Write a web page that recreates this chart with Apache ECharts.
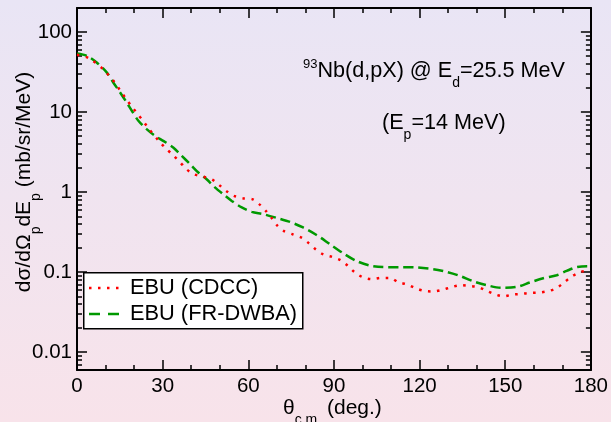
<!DOCTYPE html>
<html><head><meta charset="utf-8">
<script src="https://cdn.jsdelivr.net/npm/echarts@6/dist/echarts.min.js"></script>
<style>html,body{margin:0;padding:0}#c{width:611px;height:422px;background:linear-gradient(to bottom,#e9e5f5,#f8e3ea)}</style>
</head><body><div id="c"></div><script>
// EBU (CDCC) — red dotted
const cdccTheta = [0, 4.0, 9.2, 11.3, 13.4, 15.2, 17.1, 19.0, 21.1, 23.0, 25.0, 29.1, 31.4, 33.7, 36.1, 38.3, 40.9, 44.0, 47.3, 49.8, 52.2, 55.0, 58.0, 61.3, 63.8, 66.2, 68.3, 70.1, 72.5, 75.7, 78.8, 81.3, 83.7, 86.4, 89.4, 92.5, 95.0, 97.4, 100.1, 103.3, 106.4, 109.6, 112.5, 115.7, 118.6, 121.6, 124.8, 127.9, 131.1, 134.2, 137.4, 140.6, 143.7, 146.6, 149.5, 152.6, 155.6, 158.6, 161.9, 164.8, 167.7, 170.4, 173.1, 175.9, 178.9];
const cdccValue = [52, 47.6, 34.4, 28.3, 23.0, 18.5, 14.8, 12.0, 9.6, 7.9, 6.3, 4.2, 3.45, 2.88, 2.37, 1.94, 1.68, 1.57, 1.44, 1.23, 1.04, 0.90, 0.84, 0.82, 0.71, 0.58, 0.47, 0.384, 0.326, 0.296, 0.268, 0.228, 0.192, 0.166, 0.155, 0.140, 0.119, 0.099, 0.0866, 0.0818, 0.0849, 0.0849, 0.075, 0.0702, 0.063, 0.0584, 0.0574, 0.0601, 0.065, 0.0688, 0.0674, 0.065, 0.0579, 0.0526, 0.050, 0.0526, 0.0535, 0.0551, 0.0557, 0.0579, 0.0625, 0.0735, 0.0873, 0.0991, 0.106];
// EBU (FR-DWBA) — green dashed
const dwbaTheta = [0, 3.4, 6.9, 10.4, 12.7, 15.1, 17.4, 19.2, 21.5, 24.4, 27.3, 30.2, 33.7, 36.7, 39.6, 42.5, 45.4, 48.3, 51.2, 54.2, 57.7, 61.2, 65.2, 70.3, 74.6, 79.2, 83.9, 88.6, 93.2, 97.9, 102.6, 107.2, 113.1, 118.9, 124.8, 129.4, 134.1, 138.8, 143.5, 148.7, 154.0, 158.6, 163.3, 168.0, 171.5, 175.0, 179.0, 180];
const dwbaValue = [54, 50.6, 41.8, 31.4, 23.5, 17.6, 13.2, 10.4, 7.8, 6.13, 5.06, 4.38, 3.62, 2.84, 2.24, 1.76, 1.45, 1.15, 0.944, 0.778, 0.644, 0.567, 0.531, 0.473, 0.425, 0.362, 0.292, 0.224, 0.173, 0.138, 0.121, 0.116, 0.1155, 0.1145, 0.109, 0.101, 0.090, 0.077, 0.0688, 0.0637, 0.0655, 0.0743, 0.0841, 0.0917, 0.1038, 0.1155, 0.119, 0.119];

const seriesNames = ['EBU (CDCC)', 'EBU (FR-DWBA)'];
const yMajorTicks = [0.01, 0.1, 1, 10, 100];
const yMinorTicks = [0.006, 0.007, 0.008, 0.009,
  0.02, 0.03, 0.04, 0.05, 0.06, 0.07, 0.08, 0.09,
  0.2, 0.3, 0.4, 0.5, 0.6, 0.7, 0.8, 0.9,
  2, 3, 4, 5, 6, 7, 8, 9,
  20, 30, 40, 50, 60, 70, 80, 90];

const F = 'Liberation Sans, Arial, Helvetica, sans-serif';
const pair = (xs, ys) => xs.map((x, i) => [x, ys[i]]);
const fmtY = v => v >= 1 ? String(Math.round(v)) : String(+v.toPrecision(1));

function makeRich(size) {
  return {
    n: {fontSize: size, fontFamily: F, lineHeight: 26, verticalAlign: 'middle', fill: '#000'},
    sup: {fontSize: 13, fontFamily: F, lineHeight: 12, height: 12, verticalAlign: 'top', fill: '#000'},
    sub: {fontSize: 14, fontFamily: F, lineHeight: 2, height: 2, verticalAlign: 'bottom', fill: '#000'}
  };
}
const richTitle = makeRich(21.6);
const richAxis = makeRich(21);

const axisLine = {show: true, lineStyle: {color: '#000', width: 2}};
const yBase = {type: 'log', min: 0.006, max: 200, splitLine: {show: false}, axisLine: axisLine};
const xBase = {type: 'value', min: 0, max: 180, interval: 30, splitLine: {show: false}, axisLine: axisLine,
  axisTick: {inside: true, length: 10, lineStyle: {color: '#000', width: 1.5}},
  minorTick: {show: true, splitNumber: 3, length: 5, lineStyle: {color: '#000', width: 1.5}}};

const chart = echarts.init(document.getElementById('c'), null, {renderer: 'canvas'});
chart.setOption({
  backgroundColor: 'transparent',
  animation: false,
  grid: {left: 77, right: 20, top: 8, bottom: 52},
  xAxis: [
    Object.assign({}, xBase, {position: 'bottom',
      axisLabel: {color: '#000', fontSize: 20.5, fontFamily: F, margin: 6}}),
    Object.assign({}, xBase, {position: 'top', axisLabel: {show: false}})
  ],
  yAxis: [
    Object.assign({}, yBase, {position: 'left',
      axisTick: {inside: true, length: 10, customValues: yMajorTicks, lineStyle: {color: '#000', width: 1.5}},
      axisLabel: {customValues: yMajorTicks, formatter: fmtY, color: '#000', fontSize: 20.5, fontFamily: F, margin: 5}}),
    Object.assign({}, yBase, {position: 'left', axisLine: {show: false},
      axisTick: {inside: true, length: 5, customValues: yMinorTicks, lineStyle: {color: '#000', width: 1.5}},
      axisLabel: {show: false}}),
    Object.assign({}, yBase, {position: 'right',
      axisTick: {inside: true, length: 10, customValues: yMajorTicks, lineStyle: {color: '#000', width: 1.5}},
      axisLabel: {show: false}}),
    Object.assign({}, yBase, {position: 'right', axisLine: {show: false},
      axisTick: {inside: true, length: 5, customValues: yMinorTicks, lineStyle: {color: '#000', width: 1.5}},
      axisLabel: {show: false}})
  ],
  series: [
    {name: seriesNames[0], type: 'line', xAxisIndex: 0, yAxisIndex: 0, data: pair(cdccTheta, cdccValue),
      symbol: 'none', smooth: 0.3, lineStyle: {color: '#ff0000', width: 2.5, type: [2.5, 6.5]}, z: 3},
    {name: seriesNames[1], type: 'line', xAxisIndex: 0, yAxisIndex: 0, data: pair(dwbaTheta, dwbaValue),
      symbol: 'none', smooth: 0.3, lineStyle: {color: '#009900', width: 2.5, type: [10, 5]}, z: 2}
  ],
  graphic: [
    {type: 'rect', left: 83, top: 272, z: 10, shape: {width: 219, height: 56},
      style: {fill: '#fff', stroke: '#000', lineWidth: 1.5}},
    {type: 'line', z: 11, shape: {x1: 89, y1: 288, x2: 120, y2: 288},
      style: {stroke: '#ff0000', lineWidth: 2.5, lineDash: [2.5, 6.5]}},
    {type: 'text', z: 11, style: {x: 130, y: 288, text: seriesNames[0], fontSize: 21.8, fontFamily: F, fill: '#000', textVerticalAlign: 'middle'}},
    {type: 'line', z: 11, shape: {x1: 89, y1: 314, x2: 120, y2: 314},
      style: {stroke: '#009900', lineWidth: 2.5, lineDash: [11, 8]}},
    {type: 'text', z: 11, style: {x: 130, y: 314, text: seriesNames[1], fontSize: 21.8, fontFamily: F, fill: '#000', textVerticalAlign: 'middle'}},
    {type: 'text', z: 11, style: {x: 303, y: 58, text: '{sup|93}{n|Nb(d,pX) @ E}{sub|d}{n|=25.5 MeV}', rich: richTitle, textAlign: 'left', textVerticalAlign: 'top'}},
    {type: 'text', z: 11, style: {x: 382, y: 110, text: '{n|(E}{sub|p}{n|=14 MeV)}', rich: richTitle, textAlign: 'left', textVerticalAlign: 'top'}},
    {type: 'text', z: 11, style: {x: 283, y: 395, text: '{n|θ}{sub|c.m.}{n| (deg.)}', rich: richAxis, textAlign: 'left', textVerticalAlign: 'top'}},
    {type: 'text', z: 11, x: 24, y: 182, rotation: Math.PI / 2,
      style: {x: 0, y: 0, text: '{n|dσ/dΩ}{sub|p}{n|dE}{sub|p}{n| (mb/sr/MeV)}', rich: richAxis, textAlign: 'center', textVerticalAlign: 'middle'}}
  ]
});
</script></body></html>
